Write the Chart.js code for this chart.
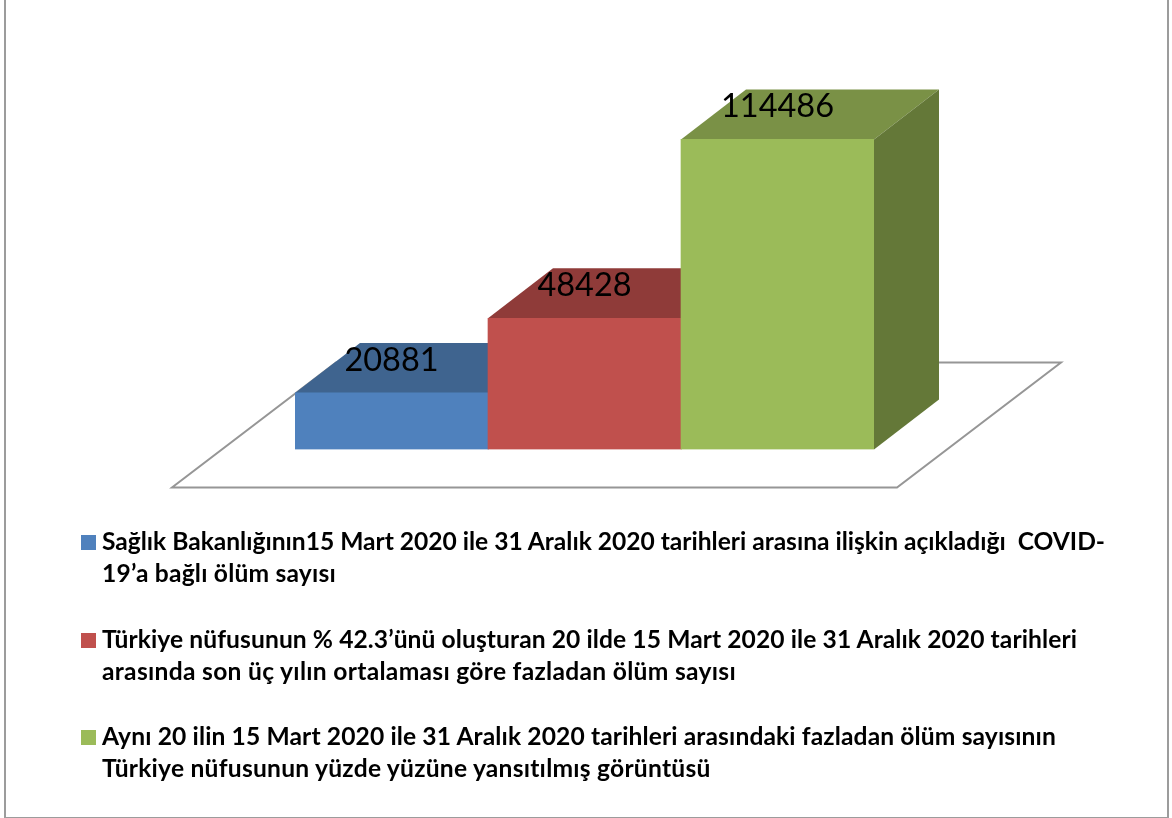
<!DOCTYPE html>
<html lang="tr">
<head>
<meta charset="utf-8">
<title>Grafik</title>
<script src="https://cdn.jsdelivr.net/npm/chart.js@4/dist/chart.umd.min.js"></script>
<style>
html,body{margin:0;padding:0;background:#fff;width:1172px;height:818px;overflow:hidden}
#wrap{position:relative;width:1172px;height:818px}
#c{position:absolute;left:0;top:0}
#frame{position:absolute;left:4px;top:-4px;width:1161px;height:819px;border:2px solid #9c9c9c;pointer-events:none}
.sw{position:absolute;width:15px;height:15px}
.ln{position:absolute;left:102px;white-space:pre;font:bold 24.6px Lato,sans-serif;line-height:32px;color:#000}
</style>
</head>
<body>
<div id="wrap">
<canvas id="c" width="1172" height="818"></canvas>
<div id="frame"></div>
</div>
<script>
const categories = [
  "Sağlık Bakanlığının15 Mart 2020 ile 31 Aralık 2020 tarihleri arasına ilişkin açıkladığı  COVID-19’a bağlı ölüm sayısı",
  "Türkiye nüfusunun % 42.3’ünü oluşturan 20 ilde 15 Mart 2020 ile 31 Aralık 2020 tarihleri arasında son üç yılın ortalaması göre fazladan ölüm sayısı",
  "Aynı 20 ilin 15 Mart 2020 ile 31 Aralık 2020 tarihleri arasındaki fazladan ölüm sayısının Türkiye nüfusunun yüzde yüzüne yansıtılmış görüntüsü"
];
const legendLines = [
  ["Sağlık Bakanlığının15 Mart 2020 ile 31 Aralık 2020 tarihleri arasına ilişkin açıkladığı  COVID-", "19’a bağlı ölüm sayısı"],
  ["Türkiye nüfusunun % 42.3’ünü oluşturan 20 ilde 15 Mart 2020 ile 31 Aralık 2020 tarihleri", "arasında son üç yılın ortalaması göre fazladan ölüm sayısı"],
  ["Aynı 20 ilin 15 Mart 2020 ile 31 Aralık 2020 tarihleri arasındaki fazladan ölüm sayısının", "Türkiye nüfusunun yüzde yüzüne yansıtılmış görüntüsü"]
];
const legendLineWidths = [[1003, 234], [975, 634], [954, 609]];
const values = [20881, 48428, 114486];
const frontColors = ["#4f81bd", "#c0504d", "#9bbb59"];
const topColors = ["#3f648f", "#8f3b39", "#7a9146"];
const sideColors = ["#2f4b6e", "#6e2d2b", "#647838"];
const legendTops = [535, 633, 730];

const depthX = 65, depthY = 50;

const box3d = {
  id: "box3d",
  beforeDatasetsDraw(chart) {
    const ctx = chart.ctx, area = chart.chartArea;
    const base = chart.scales.y.getPixelForValue(0);
    ctx.save();
    // floor
    ctx.beginPath();
    ctx.moveTo(area.left - 123, base + 38);
    ctx.lineTo(area.right + 23, base + 38);
    ctx.lineTo(area.right + 187, base - 87);
    ctx.lineTo(area.left + 41, base - 87);
    ctx.closePath();
    ctx.strokeStyle = "#969696";
    ctx.lineWidth = 2;
    ctx.stroke();
    // top and side faces
    chart.getDatasetMeta(0).data.forEach((bar, i) => {
      const p = bar.getProps(["x", "y", "base", "width"], true);
      const l = p.x - p.width / 2, r = p.x + p.width / 2;
      ctx.fillStyle = topColors[i];
      ctx.beginPath();
      ctx.moveTo(l, p.y);
      ctx.lineTo(l + depthX, p.y - depthY);
      ctx.lineTo(r + depthX, p.y - depthY);
      ctx.lineTo(r, p.y);
      ctx.closePath();
      ctx.fill();
      ctx.fillStyle = sideColors[i];
      ctx.beginPath();
      ctx.moveTo(r, p.y);
      ctx.lineTo(r + depthX, p.y - depthY);
      ctx.lineTo(r + depthX, p.base - depthY);
      ctx.lineTo(r, p.base);
      ctx.closePath();
      ctx.fill();
    });
    ctx.restore();
  },
  afterDatasetsDraw(chart) {
    const ctx = chart.ctx;
    ctx.save();
    ctx.fillStyle = "#000";
    ctx.font = "32.5px Lato, sans-serif";
    ctx.textAlign = "center";
    ctx.textBaseline = "alphabetic";
    chart.getDatasetMeta(0).data.forEach((bar, i) => {
      const p = bar.getProps(["x", "y"], true);
      ctx.fillText(String(values[i]), p.x, p.y - 22);
    });
    ctx.restore();
  }
};

new Chart(document.getElementById("c"), {
  type: "bar",
  data: {
    labels: categories,
    datasets: [{
      data: values,
      backgroundColor: frontColors,
      borderWidth: 0,
      barPercentage: 1,
      categoryPercentage: 1
    }]
  },
  options: {
    responsive: false,
    animation: false,
    layout: { padding: { left: 295, right: 298, top: 124.5, bottom: 368.5 } },
    plugins: { legend: { display: false }, tooltip: { enabled: false } },
    scales: {
      x: { display: false },
      y: { display: false, min: 0, max: 120000 }
    }
  },
  plugins: [box3d]
});

const wrap = document.getElementById("wrap");
legendLines.forEach((lines, i) => {
  const s = document.createElement("div");
  s.className = "sw";
  s.style.left = "81px";
  s.style.top = legendTops[i] + "px";
  s.style.background = frontColors[i];
  wrap.appendChild(s);
  lines.forEach((t, j) => {
    const d = document.createElement("div");
    d.className = "ln";
    d.style.top = (legendTops[i] - 10 + j * 32) + "px";
    d.textContent = t;
    wrap.appendChild(d);
    const extra = legendLineWidths[i][j] - d.getBoundingClientRect().width;
    d.style.letterSpacing = (extra / t.length) + "px";
  });
});
</script>
</body>
</html>
